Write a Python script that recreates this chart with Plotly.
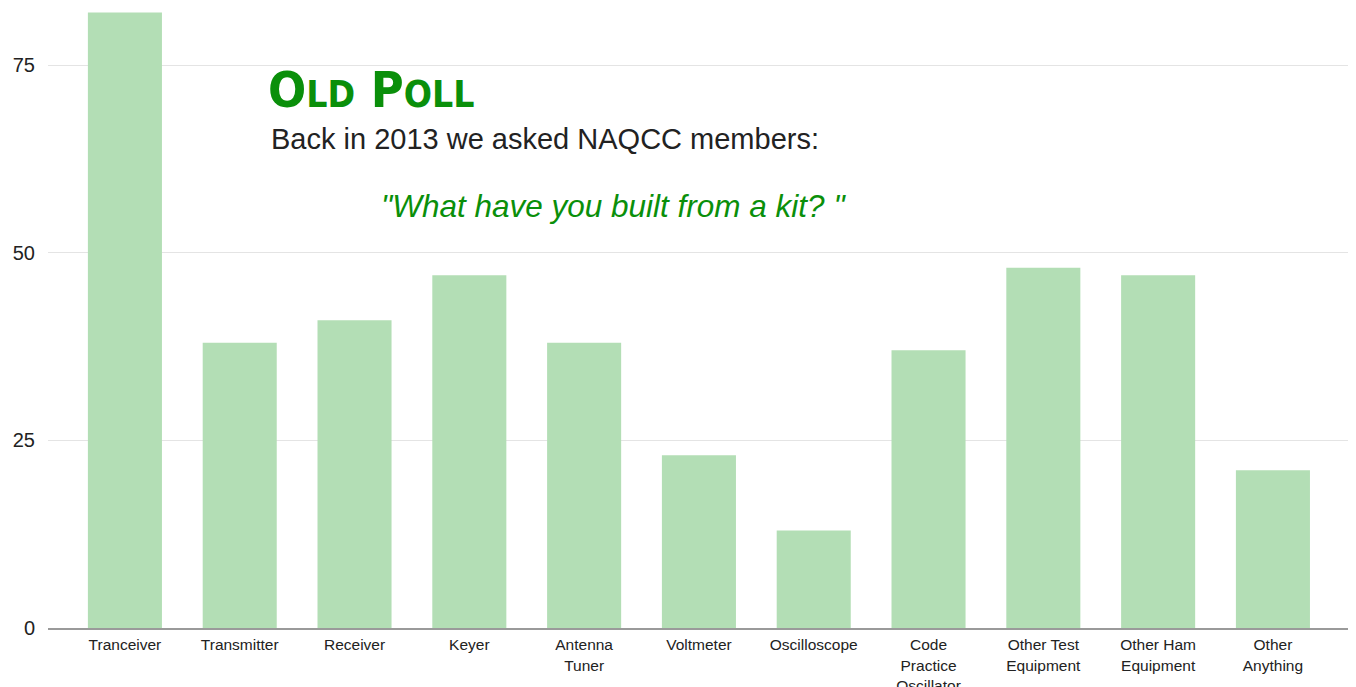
import plotly.graph_objects as go

categories = ["Tranceiver", "Transmitter", "Receiver", "Keyer", "Antenna<br>Tuner",
              "Voltmeter", "Oscilloscope", "Code<br>Practice<br>Oscillator",
              "Other Test<br>Equipment", "Other Ham<br>Equipment", "Other<br>Anything"]
values = [82, 38, 41, 47, 38, 23, 13, 37, 48, 47, 21]
y_ticks = [0, 25, 50, 75]

# page body has an 8px margin; compensate so the plot lands where the reference has it
OFF = 8
W, H = 1356, 687
L, R, T, B = 40, 13, 0, 67
pw, ph = W - L - R, H - T - B

def px(x):
    return (x - OFF - L) / pw

def py(y):
    return (H - B - (y - OFF)) / ph

fig = go.Figure(go.Bar(
    x=list(range(len(categories))), y=values,
    marker=dict(color="#b3deb5", line=dict(width=0)),
    hoverinfo="skip",
))

green = "#0a8f0a"
fig.update_layout(
    width=W, height=H,
    margin=dict(l=L, r=R, t=T, b=B, autoexpand=False),
    plot_bgcolor="white", paper_bgcolor="white",
    bargap=0.355,
    showlegend=False,
    xaxis=dict(
        tickmode="array", tickvals=list(range(len(categories))), ticktext=categories,
        range=[-0.67, 10.68], showgrid=False, zeroline=False, automargin=False,
        showline=True, linecolor="#9a9a9a", linewidth=1.5,
        tickfont=dict(family="Liberation Sans, Arial", size=15.5, color="#222222"),
        ticks="", tickangle=0, ticklabelstandoff=2,
    ),
    yaxis=dict(
        range=[0, 82.6], tickmode="array", tickvals=y_ticks, automargin=False,
        showgrid=True, gridcolor="#e4e4e4", gridwidth=1,
        zeroline=False, showline=False, ticks="",
        tickfont=dict(family="Liberation Sans, Arial", size=20, color="#222222"),
        ticklabelstandoff=12,
    ),
    annotations=[
        dict(xref="paper", yref="paper", x=px(266), y=py(90), xanchor="left", yanchor="middle",
             showarrow=False,
             text="<b>O<span style='font-size:37px'>LD</span> P<span style='font-size:37px'>OLL</span></b>",
             font=dict(family="DejaVu Sans Condensed, Liberation Sans Narrow, Liberation Sans", size=50, color=green)),
        dict(xref="paper", yref="paper", x=px(269), y=py(139), xanchor="left", yanchor="middle",
             showarrow=False, text="Back in 2013 we asked NAQCC members:",
             font=dict(family="Liberation Sans, Arial", size=29, color="#222222")),
        dict(xref="paper", yref="paper", x=px(379), y=py(206), xanchor="left", yanchor="middle",
             showarrow=False, text="<i>\"What have you built from a kit? \"</i>",
             font=dict(family="Liberation Sans, Arial", size=31.5, color=green)),
    ],
)

fig.write_html("out.html")
